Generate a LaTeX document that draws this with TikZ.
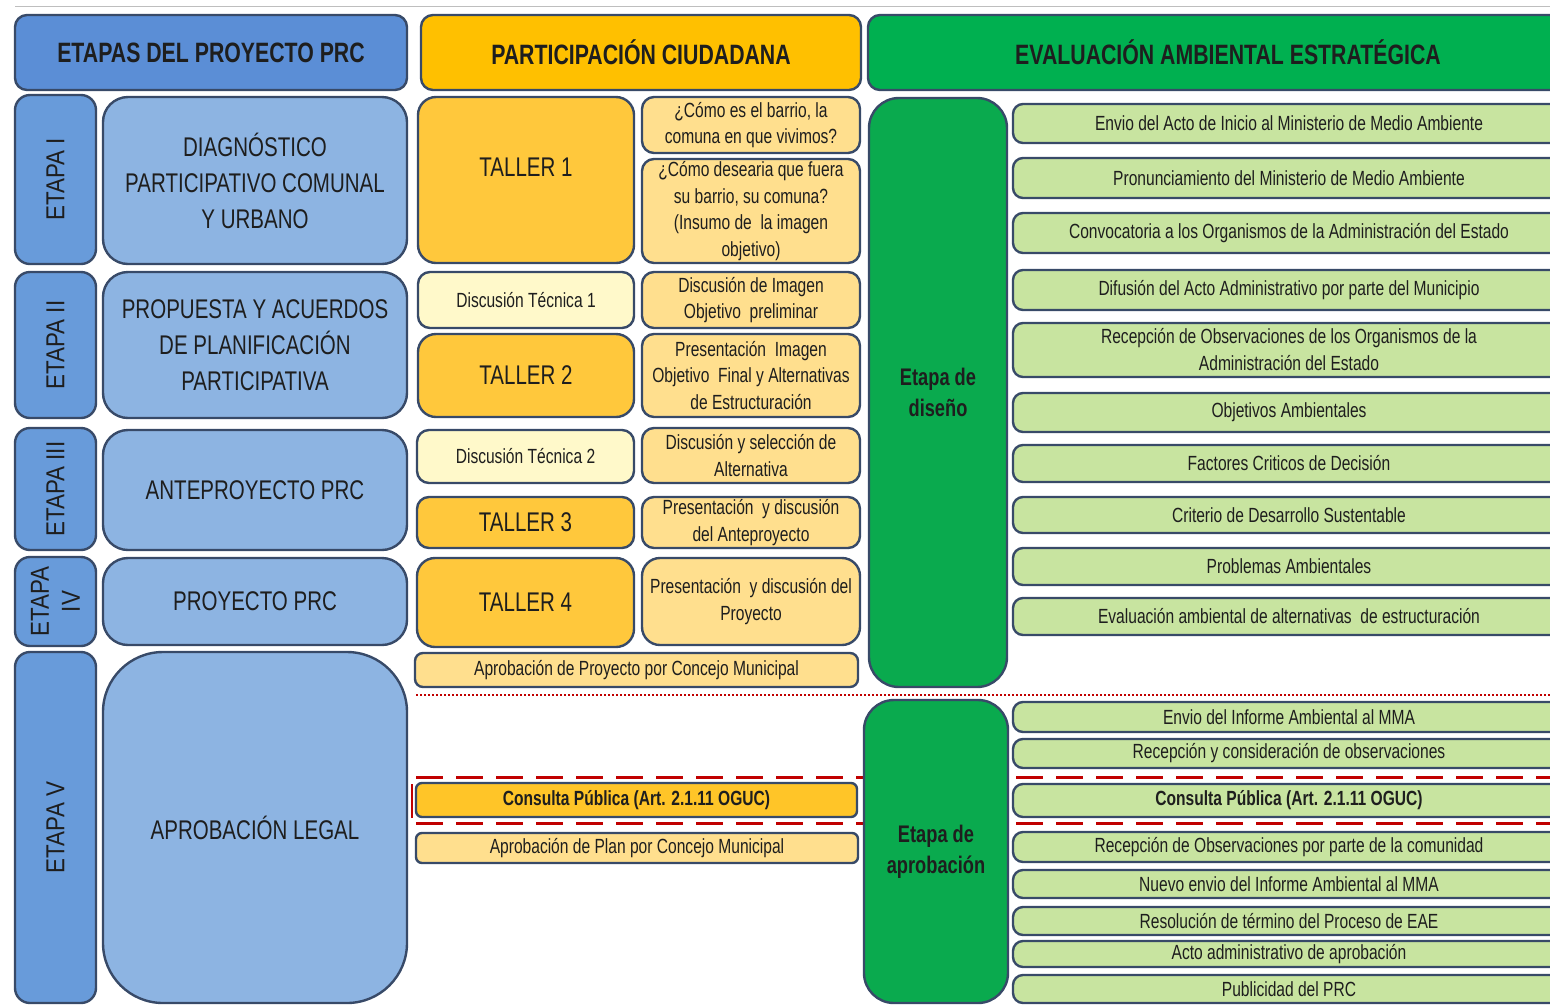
\documentclass[tikz,border=0pt]{standalone}
\usepackage{fontspec}
\setmainfont{Liberation Sans}[FakeStretch=0.76]
\newfontfamily\rotfont{Liberation Sans}[FakeStretch=0.86]
\definecolor{bordc}{RGB}{56,74,104}
\definecolor{txtc}{RGB}{30,30,30}
\definecolor{bluehdr}{RGB}{91,142,214}
\definecolor{blueet}{RGB}{104,155,218}
\definecolor{bluebig}{RGB}{141,180,226}
\definecolor{orahdr}{RGB}{255,192,0}
\definecolor{tallerc}{RGB}{255,200,60}
\definecolor{qboxc}{RGB}{255,223,142}
\definecolor{dtboxc}{RGB}{255,249,202}
\definecolor{consc}{RGB}{255,197,40}
\definecolor{greenhdr}{RGB}{0,176,80}
\definecolor{greenbig}{RGB}{10,170,78}
\definecolor{greenlt}{RGB}{200,228,160}
\definecolor{redc}{RGB}{192,0,0}
\definecolor{grayl}{RGB}{190,190,190}
\begin{document}
\begin{tikzpicture}[x=1pt,y=-1pt,
  bx/.style={draw=bordc, line width=2.4pt, inner sep=2pt, align=center, text=txtc},
  hdr/.style={bx, rounded corners=12pt, font=\fontsize{28}{32}\selectfont\bfseries},
  etbox/.style={bx, fill=blueet, rounded corners=15pt, rotate=90, font=\rotfont\fontsize{26}{31}\selectfont},
  bigbox/.style={bx, fill=bluebig, rounded corners=25pt, font=\fontsize{27}{36}\selectfont},
  tallerbox/.style={bx, fill=tallerc, rounded corners=18pt, font=\fontsize{27}{30}\selectfont},
  qbox/.style={bx, fill=qboxc, rounded corners=12pt, font=\fontsize{20.5}{26.5}\selectfont},
  dtbox/.style={bx, fill=dtboxc, rounded corners=12pt, font=\fontsize{20.5}{26}\selectfont},
  gbox/.style={bx, fill=greenlt, rounded corners=10pt, minimum width=552pt, font=\fontsize{20.5}{27}\selectfont},
  stagebox/.style={bx, fill=greenbig, rounded corners=30pt, minimum width=140pt, font=\fontsize{24}{31}\selectfont\bfseries},
  reddot/.style={draw=redc, line width=2.2pt, dash pattern=on 2pt off 2pt},
  reddash/.style={draw=redc, line width=3pt, dash pattern=on 27pt off 13pt}
]
\useasboundingbox (0,0) rectangle (1550,1005);
\clip (0,0) rectangle (1550,1005);
\fill[white] (0,0) rectangle (1550,1005);

% top thin line
\coordinate (topL) at (15,6);
\coordinate (topR) at (1550,6);
\draw[grayl, line width=1pt] (topL) -- (topR);

% headers
\node[hdr, fill=bluehdr, minimum width=392pt, minimum height=75pt] (hA) at (211,52.5) {ETAPAS DEL PROYECTO PRC};
\node[hdr, fill=orahdr, minimum width=440pt, minimum height=75pt] (hB) at (641,52.5) {PARTICIPACIÓN CIUDADANA};
\node[hdr, fill=greenhdr, minimum width=720pt, minimum height=75pt] (hC) at (1228,52.5) {EVALUACIÓN AMBIENTAL ESTRATÉGICA};

% left column
\node[etbox, minimum width=169pt, minimum height=81pt] (e1) at (55.5,179.5) {ETAPA I};
\node[bigbox, minimum width=304pt, minimum height=167pt] (b1) at (255,180.5) {DIAGNÓSTICO\\PARTICIPATIVO COMUNAL\\Y URBANO};
\node[etbox, minimum width=146pt, minimum height=81pt] (e2) at (55.5,345) {ETAPA II};
\node[bigbox, minimum width=304pt, minimum height=146pt] (b2) at (255,345) {PROPUESTA Y ACUERDOS\\DE PLANIFICACIÓN\\PARTICIPATIVA};
\node[etbox, minimum width=122pt, minimum height=81pt] (e3) at (55.5,489) {ETAPA III};
\node[bigbox, minimum width=304pt, minimum height=120pt] (b3) at (255,490) {ANTEPROYECTO PRC};
\node[etbox, minimum width=89pt, minimum height=81pt] (e4) at (55.5,601.5) {ETAPA\\IV};
\node[bigbox, minimum width=304pt, minimum height=87pt] (b4) at (255,601.5) {PROYECTO PRC};
\node[etbox, minimum width=351pt, minimum height=81pt] (e5) at (55.5,827.5) {ETAPA V};
\node[bigbox, rounded corners=60pt, minimum width=304pt, minimum height=351pt] (b5) at (255,827.5) {APROBACIÓN LEGAL};

% middle column
\node[tallerbox, minimum width=216pt, minimum height=166pt, text depth=26pt] (t1) at (526,180) {TALLER 1};
\node[qbox, minimum width=218pt, minimum height=56pt] (q1) at (751,125) {¿Cómo es el barrio, la\\comuna en que vivimos?};
\node[qbox, minimum width=218pt, minimum height=104pt] (q2) at (751,211) {¿Cómo desearia que fuera\\su barrio, su comuna?\\(Insumo de \ la imagen\\objetivo)};
\node[dtbox, minimum width=216pt, minimum height=56pt] (d1) at (526,300) {Discusión Técnica 1};
\node[qbox, minimum width=218pt, minimum height=56pt] (q3) at (751,300) {Discusión de Imagen\\Objetivo \ preliminar};
\node[tallerbox, minimum width=216pt, minimum height=83pt] (t2) at (526,375.5) {TALLER 2};
\node[qbox, minimum width=218pt, minimum height=83pt] (q4) at (751,375.5) {Presentación \ Imagen\\Objetivo \ Final y Alternativas\\de Estructuración};
\node[dtbox, minimum width=217pt, minimum height=53pt] (d2) at (525.5,456.5) {Discusión Técnica 2};
\node[qbox, minimum width=218pt, minimum height=55pt] (q5) at (751,455.5) {Discusión y selección de\\Alternativa};
\node[tallerbox, rounded corners=12pt, minimum width=217pt, minimum height=51pt] (t3) at (525.5,522.5) {TALLER 3};
\node[qbox, minimum width=218pt, minimum height=51pt] (q6) at (751,522.5) {Presentación \ y discusión\\del Anteproyecto};
\node[tallerbox, minimum width=217pt, minimum height=89pt] (t4) at (525.5,602.5) {TALLER 4};
\node[qbox, rounded corners=18pt, minimum width=218pt, minimum height=87pt] (q7) at (751,601.5) {Presentación \ y discusión del\\Proyecto};
\node[qbox, rounded corners=8pt, minimum width=443pt, minimum height=34pt] (ap1) at (636.5,670) {Aprobación de Proyecto por Concejo Municipal};

% separators
\coordinate (dotL) at (416,695);
\coordinate (dotR) at (1550,695);
\draw[reddot] (dotL) -- (dotR);
\coordinate (dsAL) at (416,777);
\coordinate (dsAR) at (1550,777);
\coordinate (dsBL) at (416,823);
\coordinate (dsBR) at (1550,823);
\draw[reddash] (dsAL) -- (dsAR);
\draw[reddash] (dsBL) -- (dsBR);
\coordinate (barT) at (412,784);
\coordinate (barB) at (412,818);
\draw[redc, line width=2.5pt] (barT) -- (barB);

\node[bx, fill=consc, rounded corners=6pt, minimum width=441pt, minimum height=34pt, font=\fontsize{20.5}{24}\selectfont\bfseries] (cp1) at (636.5,800) {Consulta Pública (Art. 2.1.11 OGUC)};
\node[qbox, rounded corners=6pt, minimum width=442pt, minimum height=30pt] (ap2) at (637,848) {Aprobación de Plan por Concejo Municipal};

% right column: stages
\node[stagebox, minimum width=138pt, minimum height=589pt] (gd) at (938,392.5) {Etapa de\\diseño};
\node[stagebox, minimum width=144pt, minimum height=303pt] (ga) at (936,851.5) {Etapa de\\aprobación};

% right column: design steps
\node[gbox, minimum height=39pt] (r1) at (1289,123.5) {Envio del Acto de Inicio al Ministerio de Medio Ambiente};
\node[gbox, minimum height=40pt] (r2) at (1289,178) {Pronunciamiento del Ministerio de Medio Ambiente};
\node[gbox, minimum height=40pt] (r3) at (1289,233) {Convocatoria a los Organismos de la Administración del Estado};
\node[gbox, minimum height=40pt] (r4) at (1289,290) {Difusión del Acto Administrativo por parte del Municipio};
\node[gbox, minimum height=54pt] (r5) at (1289,350) {Recepción de Observaciones de los Organismos de la\\Administración del Estado};
\node[gbox, minimum height=39pt] (r6) at (1289,412.5) {Objetivos Ambientales};
\node[gbox, minimum height=37pt] (r7) at (1289,463.5) {Factores Criticos de Decisión};
\node[gbox, minimum height=36pt] (r8) at (1289,515) {Criterio de Desarrollo Sustentable};
\node[gbox, minimum height=37pt] (r9) at (1289,566.5) {Problemas Ambientales};
\node[gbox, minimum height=37pt] (r10) at (1289,616.5) {Evaluación ambiental de alternativas \ de estructuración};

% right column: approval steps
\node[gbox, minimum height=30pt] (a1) at (1289,717) {Envio del Informe Ambiental al MMA};
\node[gbox, minimum height=29pt] (a2) at (1289,753.5) {Recepción y consideración de observaciones};
\node[gbox, minimum height=33pt, font=\fontsize{20.5}{24}\selectfont\bfseries] (a3) at (1289,800.5) {Consulta Pública (Art. 2.1.11 OGUC)};
\node[gbox, minimum height=30pt] (a4) at (1289,847) {Recepción de Observaciones por parte de la comunidad};
\node[gbox, minimum height=28pt] (a5) at (1289,884) {Nuevo envio del Informe Ambiental al MMA};
\node[gbox, minimum height=28pt] (a6) at (1289,921) {Resolución de término del Proceso de EAE};
\node[gbox, minimum height=26pt] (a7) at (1289,954) {Acto administrativo de aprobación};
\node[gbox, minimum height=28pt] (a8) at (1289,989) {Publicidad del PRC};
\end{tikzpicture}
\end{document}
